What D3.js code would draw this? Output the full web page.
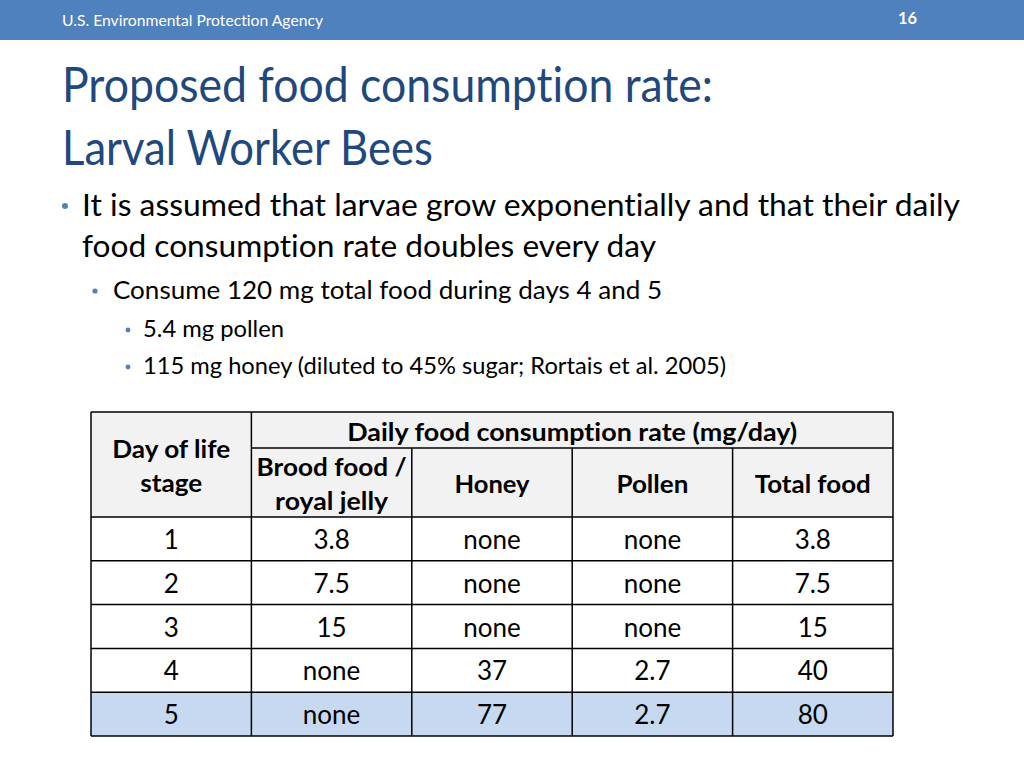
<!DOCTYPE html>
<html><head><meta charset="utf-8">
<script src="https://cdn.jsdelivr.net/npm/d3@7"></script>
<style>html,body{margin:0;padding:0;background:#fff;}svg{display:block;}text{font-variant-ligatures:none;font-feature-settings:"liga" 0;}</style>
</head><body>
<svg id="s" width="1024" height="768"></svg>
<script>
// ---- data ----
const headerLeft = "U.S. Environmental Protection Agency";
const pageNumber = "16";
const titleLines = ["Proposed food consumption rate:", "Larval Worker Bees"];
const bulletsL1 = ["It is assumed that larvae grow exponentially and that their daily", "food consumption rate doubles every day"];
const bulletsL2 = ["Consume 120 mg total food during days 4 and 5"];
const bulletsL3 = ["5.4 mg pollen", "115 mg honey (diluted to 45% sugar; Rortais et al. 2005)"];

const spanHeader = "Daily food consumption rate (mg/day)";
const columns = ["day", "brood", "honey", "pollen", "total"];
const columnHeaders = [["Day of life", "stage"], ["Brood food /", "royal jelly"], ["Honey"], ["Pollen"], ["Total food"]];
const days = ["1", "2", "3", "4", "5"];
const broodFood = ["3.8", "7.5", "15", "none", "none"];
const honey = ["none", "none", "none", "37", "77"];
const pollen = ["none", "none", "none", "2.7", "2.7"];
const totalFood = ["3.8", "7.5", "15", "40", "80"];
const highlightDay = "5";

(function () {
const svg = d3.select("#s");
const F = "Lato, 'Open Sans', sans-serif";

function fitText(sel, str, w) {
  sel.text(str);
  if (w) sel.attr("textLength", w).attr("lengthAdjust", "spacingAndGlyphs");
  return sel;
}

// header bar
svg.append("rect").attr("x", 0).attr("y", 0).attr("width", 1024).attr("height", 40).attr("fill", "#4F81BD");
fitText(svg.append("text").attr("x", 62).attr("y", 26).attr("font-family", F).attr("font-size", 15).attr("fill", "#fff"), headerLeft, 261);
fitText(svg.append("text").attr("x", 898).attr("y", 24).attr("font-family", F).attr("font-weight", "bold").attr("font-size", 17).attr("fill", "#fff"), pageNumber, 19);

// title
const titleW = [651, 371];
titleLines.forEach((t, i) => {
  fitText(svg.append("text").attr("x", 62).attr("y", 102 + i * 63).attr("font-family", F).attr("font-size", 48).attr("fill", "#1F497D"), t, titleW[i]);
});

// bullets
const bulletColor = "#4F81BD";
const l1W = [878, 574];
bulletsL1.forEach((t, i) => {
  fitText(svg.append("text").attr("x", 82).attr("y", 216 + i * 41).attr("font-family", F).attr("font-size", 31).attr("fill", "#000"), t, l1W[i]);
});
svg.append("circle").attr("cx", 65).attr("cy", 206).attr("r", 3).attr("fill", bulletColor);

bulletsL2.forEach((t) => {
  fitText(svg.append("text").attr("x", 113).attr("y", 299).attr("font-family", F).attr("font-size", 25).attr("fill", "#000"), t, 549);
  svg.append("circle").attr("cx", 95).attr("cy", 291).attr("r", 2.6).attr("fill", bulletColor);
});
const l3W = [141, 583];
bulletsL3.forEach((t, i) => {
  fitText(svg.append("text").attr("x", 143).attr("y", 337 + i * 37).attr("font-family", F).attr("font-size", 23).attr("fill", "#000"), t, l3W[i]);
  svg.append("circle").attr("cx", 128).attr("cy", 330 + i * 37).attr("r", 2.4).attr("fill", bulletColor);
});

// table
const x = d3.scaleBand().domain(columns).range([91, 893]);
const y = d3.scaleBand().domain(days).range([517, 736]);
const tTop = 412, tMid = 448, hdrBottom = 517;
const rows = days.map((d, i) => ({ day: d, brood: broodFood[i], honey: honey[i], pollen: pollen[i], total: totalFood[i] }));

const tg = svg.append("g");
tg.append("rect").attr("x", x.range()[0]).attr("y", tTop).attr("width", x.range()[1] - x.range()[0]).attr("height", hdrBottom - tTop).attr("fill", "#F2F2F2");
tg.selectAll("rect.row").data(rows).join("rect").attr("class", "row")
  .attr("x", x.range()[0]).attr("y", d => y(d.day)).attr("width", x.range()[1] - x.range()[0]).attr("height", y.bandwidth())
  .attr("fill", d => d.day === highlightDay ? "#C6D9F1" : "#FFFFFF");

const hfs = 25;
fitText(tg.append("text").attr("x", (x("brood") + x.range()[1]) / 2).attr("y", 441).attr("text-anchor", "middle")
  .attr("font-family", F).attr("font-weight", "bold").attr("font-size", hfs).attr("fill", "#000"), spanHeader, 450);
const hdrW = { day: [118, 62], brood: [150, 113], honey: [75], pollen: [72], total: [116] };
columns.forEach((c, ci) => {
  const lines = columnHeaders[ci];
  const cy = c === "day" ? (tTop + hdrBottom) / 2 : (tMid + hdrBottom) / 2;
  const lh = 34;
  lines.forEach((ln, li) => {
    const by = cy + 10 + (li - (lines.length - 1) / 2) * lh;
    fitText(tg.append("text").attr("x", x(c) + x.bandwidth() / 2).attr("y", by).attr("text-anchor", "middle")
      .attr("font-family", F).attr("font-weight", "bold").attr("font-size", hfs).attr("fill", "#000"), ln, hdrW[c][li]);
  });
});

rows.forEach(r => {
  columns.forEach(c => {
    tg.append("text").attr("x", x(c) + x.bandwidth() / 2).attr("y", y(r.day) + y.bandwidth() / 2 + 10)
      .attr("text-anchor", "middle").attr("font-family", F).attr("font-size", 26).attr("fill", "#000").text(r[c]);
  });
});

const lc = "#000", lw = 1.5;
const L = (a, b, c2, d2) => tg.append("line").attr("x1", a).attr("y1", b).attr("x2", c2).attr("y2", d2).attr("stroke", lc).attr("stroke-width", lw);
const x0 = x.range()[0], x1 = x.range()[1], yb = y.range()[1];
L(x0, tTop, x1, tTop);
L(x("brood"), tMid, x1, tMid);
L(x0, hdrBottom, x1, hdrBottom);
days.forEach(d => L(x0, y(d) + y.bandwidth(), x1, y(d) + y.bandwidth()));
L(x0, tTop, x0, yb);
L(x1, tTop, x1, yb);
L(x("brood"), tTop, x("brood"), yb);
["honey", "pollen", "total"].forEach(c => L(x(c), tMid, x(c), yb));
})();
</script>
</body></html>
